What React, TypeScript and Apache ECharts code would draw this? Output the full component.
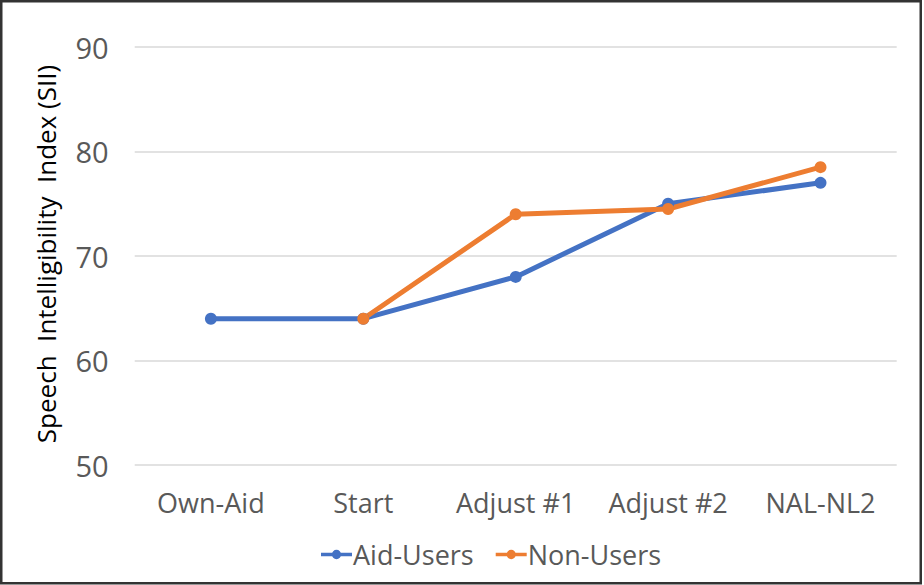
import React, { useEffect, useRef } from "react";
import * as echarts from "echarts";

const categories = ["Own-Aid", "Start", "Adjust #1", "Adjust #2", "NAL-NL2"];
const aidUsers = [64, 64, 68, 75, 77];
const nonUsers: (number | null)[] = [null, 64, 74, 74.5, 78.5];
const yTicks = { min: 50, max: 90, interval: 10 };
const yAxisTitle = "Speech  Intelligibility  Index (SII)";

const FONT = "'Open Sans', 'Noto Sans', sans-serif";
const LEGEND_ICON = "path://M0,3.6 L40,3.6 L40,8.4 L0,8.4 Z M14,6 a6,6 0 1,1 12,0 a6,6 0 1,1 -12,0 Z";

export default function App() {
  const ref = useRef<HTMLDivElement>(null);
  useEffect(() => {
    document.body.style.margin = "0";
    const chart = echarts.init(ref.current!, undefined, { renderer: "svg" });
    chart.setOption({
      animation: false,
      backgroundColor: "#ffffff",
      textStyle: { fontFamily: FONT },
      grid: { left: 134.7, top: 47, width: 762, height: 418, containLabel: false },
      legend: {
        bottom: 12,
        left: 316,
        itemWidth: 31,
        itemHeight: 12,
        itemGap: 22,
        textStyle: { fontSize: 27, color: "#595959", fontFamily: FONT, padding: [0, 0, 0, -4] },
        data: [
          { name: "Aid-Users", icon: LEGEND_ICON },
          { name: "Non-Users", icon: LEGEND_ICON },
        ],
      },
      xAxis: {
        type: "category",
        data: categories,
        boundaryGap: true,
        axisLine: { show: false },
        axisTick: { show: false },
        axisLabel: { fontSize: 27, color: "#595959", margin: 24, fontFamily: FONT, interval: 0 },
      },
      yAxis: {
        type: "value",
        min: yTicks.min,
        max: yTicks.max,
        interval: yTicks.interval,
        axisLine: { show: false },
        axisTick: { show: false },
        splitLine: { lineStyle: { color: "#d9d9d9", width: 1.5 } },
        axisLabel: { fontSize: 29, color: "#595959", margin: 26, fontFamily: FONT },
      },
      graphic: [
        {
          type: "rect",
          shape: { x: 1.25, y: 1.25, width: 919.5, height: 582 },
          style: { fill: "none", stroke: "#333333", lineWidth: 2.5 },
          silent: true,
        },
        {
          type: "text",
          x: 46,
          y: 254,
          rotation: Math.PI / 2,
          style: {
            text: yAxisTitle,
            fontSize: 26,
            fontFamily: FONT,
            fill: "#000000",
            align: "center",
            verticalAlign: "middle",
          },
        },
      ],
      series: [
        {
          name: "Aid-Users",
          type: "line",
          data: aidUsers,
          color: "#4472C4",
          symbol: "circle",
          symbolSize: 12,
          lineStyle: { width: 5, color: "#4472C4" },
          itemStyle: { color: "#4472C4" },
        },
        {
          name: "Non-Users",
          type: "line",
          data: nonUsers,
          color: "#ED7D31",
          symbol: "circle",
          symbolSize: 12,
          lineStyle: { width: 5, color: "#ED7D31" },
          itemStyle: { color: "#ED7D31" },
        },
      ],
    });
    return () => chart.dispose();
  }, []);
  return <div ref={ref} style={{ width: 924, height: 585, position: "absolute", left: 0, top: 0 }} />;
}
